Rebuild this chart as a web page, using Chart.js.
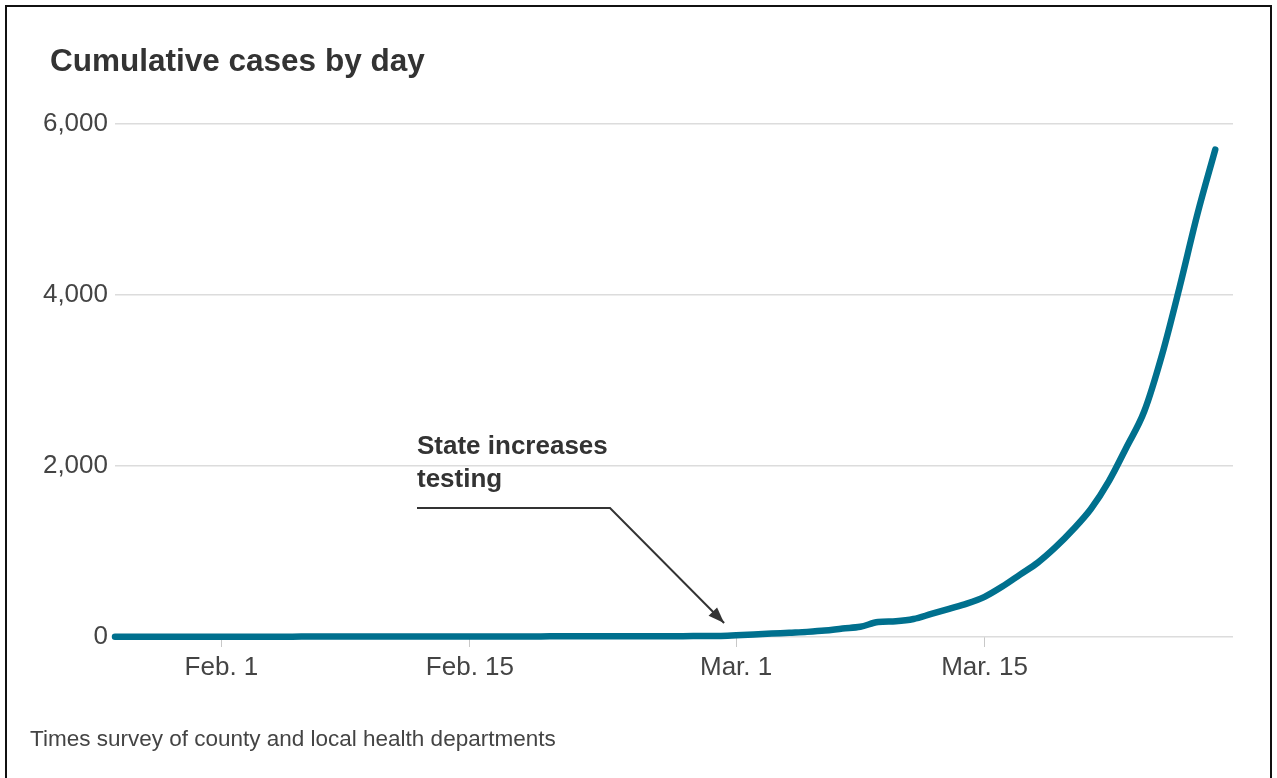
<!DOCTYPE html>
<html>
<head>
<meta charset="utf-8">
<script src="https://cdn.jsdelivr.net/npm/chart.js@4.4.1/dist/chart.umd.min.js"></script>
<style>
    body { margin: 0; background: #fff; }
    #wrap { position: relative; width: 1277px; height: 778px; }
    #frame {
        position: absolute; left: 5px; top: 5px; width: 1263px; height: 790px;
        border: 2px solid #111; border-bottom: none; pointer-events: none;
    }
</style>
</head>
<body>
<div id="wrap">
    <canvas id="case_chart"></canvas>
    <div id="frame"></div>
</div>
<script>
// data (day 0 = Jan. 26, 2020)
const START_DATE = 'Jan. 26';
const cases_jan = [2, 2, 2, 2, 3, 3];
const cases_feb = [3, 3, 3, 3, 3, 6, 6, 6, 6, 6, 6, 6, 6, 7, 7, 7, 7, 7, 7, 8, 8, 8, 8, 9, 10, 10, 10, 11, 12];
const cases_mar = [20, 30, 40, 50, 60, 75, 100, 120, 175, 185, 210, 270, 330, 390, 470, 590, 730, 870, 1050, 1260, 1500, 1820, 2220, 2640, 3300, 4100, 4950, 5700];
const tick_days = [6, 20, 35, 49];
const tick_labels = ['Feb. 1', 'Feb. 15', 'Mar. 1', 'Mar. 15'];
const y_ticks = [0, 2000, 4000, 6000];

const TITLE_TEXT = 'Cumulative cases by day';
const NOTE_LINES = ['State increases', 'testing'];
const NOTE_DAY = 35;
const SOURCE_TEXT = 'Times survey of county and local health departments';

const LINE_COLOR = '#00708e';
const FONT = '"Liberation Sans", Arial, sans-serif';

let all_cases = cases_jan.concat(cases_feb, cases_mar);
let points = [];
for (let i = 0; i < all_cases.length; i++) {
    points.push({x: i, y: all_cases[i]});
}

// text + annotation arrow
const extras_plugin = {
    id: 'extras',
    afterDraw(chart) {
        let ctx = chart.ctx;
        let xs = chart.scales.x;
        let ys = chart.scales.y;
        ctx.save();
        // title
        ctx.fillStyle = '#333';
        ctx.font = 'bold 31.5px ' + FONT;
        ctx.textAlign = 'left';
        ctx.textBaseline = 'alphabetic';
        ctx.fillText(TITLE_TEXT, 50, 71);
        // annotation
        ctx.font = 'bold 26px ' + FONT;
        ctx.fillText(NOTE_LINES[0], 417, 454);
        ctx.fillText(NOTE_LINES[1], 417, 487);
        let tip_x = xs.getPixelForValue(NOTE_DAY) - 12;
        let tip_y = ys.getPixelForValue(0) - 14;
        let knee_x = 610, knee_y = 508;
        ctx.strokeStyle = '#333';
        ctx.lineWidth = 2;
        ctx.beginPath();
        ctx.moveTo(417, knee_y);
        ctx.lineTo(knee_x, knee_y);
        ctx.lineTo(tip_x, tip_y);
        ctx.stroke();
        let ang = Math.atan2(tip_y - knee_y, tip_x - knee_x);
        ctx.fillStyle = '#333';
        ctx.beginPath();
        ctx.moveTo(tip_x, tip_y);
        ctx.lineTo(tip_x - 16 * Math.cos(ang) + 6 * Math.sin(ang), tip_y - 16 * Math.sin(ang) - 6 * Math.cos(ang));
        ctx.lineTo(tip_x - 16 * Math.cos(ang) - 6 * Math.sin(ang), tip_y - 16 * Math.sin(ang) + 6 * Math.cos(ang));
        ctx.closePath();
        ctx.fill();
        // source
        ctx.fillStyle = '#444';
        ctx.font = '22.5px ' + FONT;
        ctx.fillText(SOURCE_TEXT, 30, 746);
        ctx.restore();
    }
};

let THE_CHART = new Chart(document.getElementById('case_chart'), {
    type: 'line',
    data: {
        datasets: [{
            label: 'Cumulative cases',
            data: points,
            borderColor: LINE_COLOR,
            borderWidth: 6.5,
            borderCapStyle: 'round',
            borderJoinStyle: 'round',
            pointRadius: 0,
            cubicInterpolationMode: 'monotone',
            clip: false
        }]
    },
    options: {
        responsive: true,
        maintainAspectRatio: false,
        animation: false,
        layout: {padding: {top: 124, right: 44, left: 0, bottom: 0}},
        plugins: {
            legend: {display: false},
            tooltip: {enabled: false}
        },
        scales: {
            x: {
                type: 'linear',
                min: 0,
                max: 63,
                afterBuildTicks: function (scale) {
                    scale.ticks = tick_days.map(d => ({value: d}));
                },
                afterFit: function (scale) { scale.height = 141; },
                border: {display: false},
                grid: {drawOnChartArea: false, drawTicks: true, tickLength: 10, color: '#c8c8c8', lineWidth: 1},
                ticks: {
                    autoSkip: false,
                    maxRotation: 0,
                    padding: 5,
                    color: '#444',
                    font: {family: FONT, size: 26},
                    callback: function (value) {
                        let i = tick_days.indexOf(value);
                        return i < 0 ? '' : tick_labels[i];
                    }
                }
            },
            y: {
                min: 0,
                max: 6000,
                afterBuildTicks: function (scale) {
                    scale.ticks = y_ticks.map(v => ({value: v}));
                },
                afterFit: function (scale) { scale.width = 115; },
                border: {display: false},
                grid: {drawTicks: false, color: '#dcdcdc', lineWidth: 1.5},
                ticks: {
                    padding: 7,
                    color: '#444',
                    font: {family: FONT, size: 26},
                    callback: function (value) {
                        return value.toLocaleString('en-US');
                    }
                }
            }
        }
    },
    plugins: [extras_plugin]
});
</script>
</body>
</html>
